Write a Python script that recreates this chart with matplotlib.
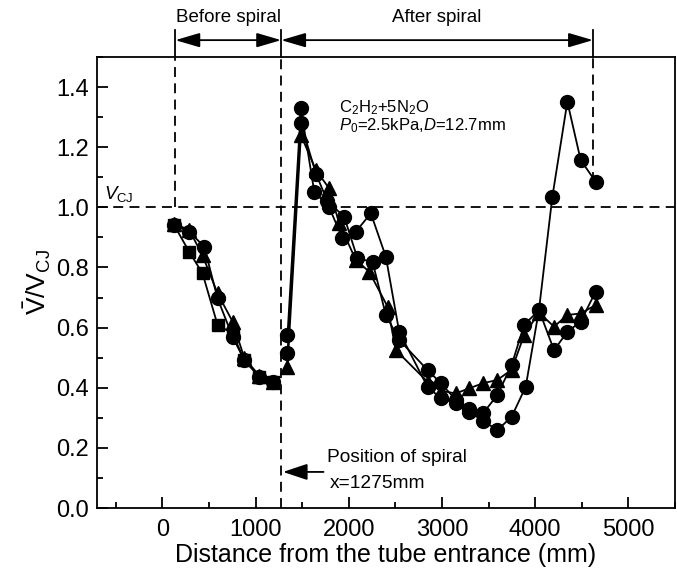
import matplotlib
matplotlib.use("Agg")
import matplotlib.pyplot as plt

plt.rcParams['font.family'] = ['Liberation Sans', 'DejaVu Sans']
plt.rcParams['mathtext.fontset'] = 'custom'
plt.rcParams['mathtext.rm'] = 'Liberation Sans'
plt.rcParams['mathtext.it'] = 'Liberation Sans:italic'

# before spiral (x in mm)
sq_x = [129, 289, 432, 593, 754, 879, 1040, 1183]
sq_y = [0.94, 0.852, 0.78, 0.609, 0.58, 0.492, 0.437, 0.42]
c1b_x = [129, 289, 450, 593, 754, 879, 1040, 1183]
c1b_y = [0.94, 0.919, 0.869, 0.697, 0.57, 0.492, 0.437, 0.42]
trb_x = [129, 289, 432, 593, 754, 879, 1040, 1183]
trb_y = [0.945, 0.925, 0.84, 0.714, 0.62, 0.50, 0.44, 0.42]

# after spiral
ca_x = [1343, 1487, 1630, 1790, 1933, 2076, 2237, 2398, 2541, 2845, 2988, 3148,
        3291, 3441, 3595, 3748, 3898, 4041, 4184, 4345, 4488, 4649]
ca_y = [0.575, 1.329, 1.052, 1.0, 0.897, 0.919, 0.98, 0.836, 0.586, 0.403, 0.365, 0.348,
        0.32, 0.29, 0.259, 0.304, 0.403, 0.66, 1.035, 1.351, 1.157, 1.085]
cb_x = [1343, 1487, 1650, 1772, 1951, 2094, 2255, 2398, 2541, 2845, 2988, 3148,
        3291, 3441, 3595, 3748, 3881, 4041, 4202, 4345, 4488, 4649]
cb_y = [0.514, 1.279, 1.11, 1.02, 0.969, 0.83, 0.819, 0.642, 0.559, 0.459, 0.415, 0.36,
        0.33, 0.315, 0.376, 0.476, 0.609, 0.658, 0.525, 0.586, 0.62, 0.72]
ta_x = [1343, 1487, 1648, 1790, 1897, 2076, 2219, 2416, 2505, 2845, 2988, 3148,
        3291, 3441, 3595, 3748, 3881, 4041, 4202, 4345, 4488, 4649]
ta_y = [0.47, 1.24, 1.124, 1.063, 0.947, 0.825, 0.786, 0.67, 0.525, 0.42, 0.39, 0.381,
        0.398, 0.415, 0.426, 0.46, 0.575, 0.65, 0.603, 0.642, 0.647, 0.675]

x_spiral = 1275
x_start = 140
x_end = 4620

fig = plt.figure(figsize=(6.77, 5.79), dpi=100)
ax = fig.add_axes([0.1433, 0.1226, 0.8538, 0.779])

kw = dict(color='black', lw=1.3, markersize=10)
ax.plot(sq_x, sq_y, marker='s', markersize=9, color='black', lw=1.3)
ax.plot(c1b_x, c1b_y, marker='o', **kw)
ax.plot(trb_x, trb_y, marker='^', **kw)
ax.plot(ca_x, ca_y, marker='o', **kw)
ax.plot(cb_x, cb_y, marker='o', **kw)
ax.plot(ta_x, ta_y, marker='^', **kw)

ax.set_xlim(-700, 5500)
ax.set_ylim(0, 1.5)

# reference lines
dash = dict(color='black', lw=1.3, dashes=(5.5, 3.5))
ax.axhline(1.0, **dash)
ax.plot([x_start, x_start], [1.0, 1.5], **dash)
ax.plot([x_spiral, x_spiral], [0, 1.5], **dash)
ax.plot([x_end, x_end], [1.085, 1.5], **dash)
for xv in (x_start, x_spiral, x_end):
    ax.plot([xv, xv], [1.5, 1.59], color='black', lw=1.3, clip_on=False)

arr = dict(arrowstyle='<|-|>,head_length=0.75,head_width=0.22', color='black',
           lw=1.3, mutation_scale=20, shrinkA=0, shrinkB=0)
ax.annotate('', xy=(x_start, 1.556), xytext=(x_spiral, 1.556), arrowprops=arr,
            annotation_clip=False)
ax.annotate('', xy=(x_spiral, 1.556), xytext=(x_end, 1.556), arrowprops=arr,
            annotation_clip=False)
ax.text((x_start + x_spiral) / 2, 1.63, 'Before spiral', ha='center', va='center',
        fontsize=13.5)
ax.text((x_spiral + x_end) / 2, 1.63, 'After spiral', ha='center', va='center',
        fontsize=13.5)

ax.text(-630, 1.045, r'$V_{\mathrm{CJ}}$', fontsize=13.5, ha='left', va='center')
ax.text(1900, 1.33, r'C$_2$H$_2$+5N$_2$O', fontsize=12, ha='left', va='center')
ax.text(1900, 1.27, r'$P_0$=2.5kPa,$D$=12.7mm', fontsize=12, ha='left', va='center')

ax.annotate('', xy=(x_spiral + 20, 0.12), xytext=(1730, 0.12),
            arrowprops=dict(arrowstyle='-|>,head_length=0.75,head_width=0.25',
                            color='black', lw=1.3, mutation_scale=20,
                            shrinkA=0, shrinkB=0))
ax.text(1770, 0.168, 'Position of spiral', fontsize=13.8, ha='left', va='center')
ax.text(1800, 0.083, 'x=1275mm', fontsize=13.8, ha='left', va='center')

ax.set_xticks([0, 1000, 2000, 3000, 4000, 5000])
ax.set_xticks([-500, 500, 1500, 2500, 3500, 4500, 5500], minor=True)
ax.set_yticks([0.0, 0.2, 0.4, 0.6, 0.8, 1.0, 1.2, 1.4])
ax.set_yticks([0.1, 0.3, 0.5, 0.7, 0.9, 1.1, 1.3, 1.5], minor=True)
ax.set_yticklabels(['0.0', '0.2', '0.4', '0.6', '0.8', '1.0', '1.2', '1.4'])
ax.tick_params(which='both', direction='in', top=False, right=False,
               labelsize=17, width=1.3)
ax.tick_params(axis='x', which='major', pad=8)
ax.tick_params(axis='y', which='major', pad=6)
ax.tick_params(which='major', length=8)
ax.tick_params(which='minor', length=4)
for s in ax.spines.values():
    s.set_linewidth(1.3)

ax.set_xlabel('Distance from the tube entrance (mm)', fontsize=18, labelpad=1)
ax.set_ylabel(r'$\bar{\mathrm{V}}/\mathrm{V}_{\mathrm{CJ}}$', fontsize=19, labelpad=2)

fig.savefig('out.png', dpi=100)
